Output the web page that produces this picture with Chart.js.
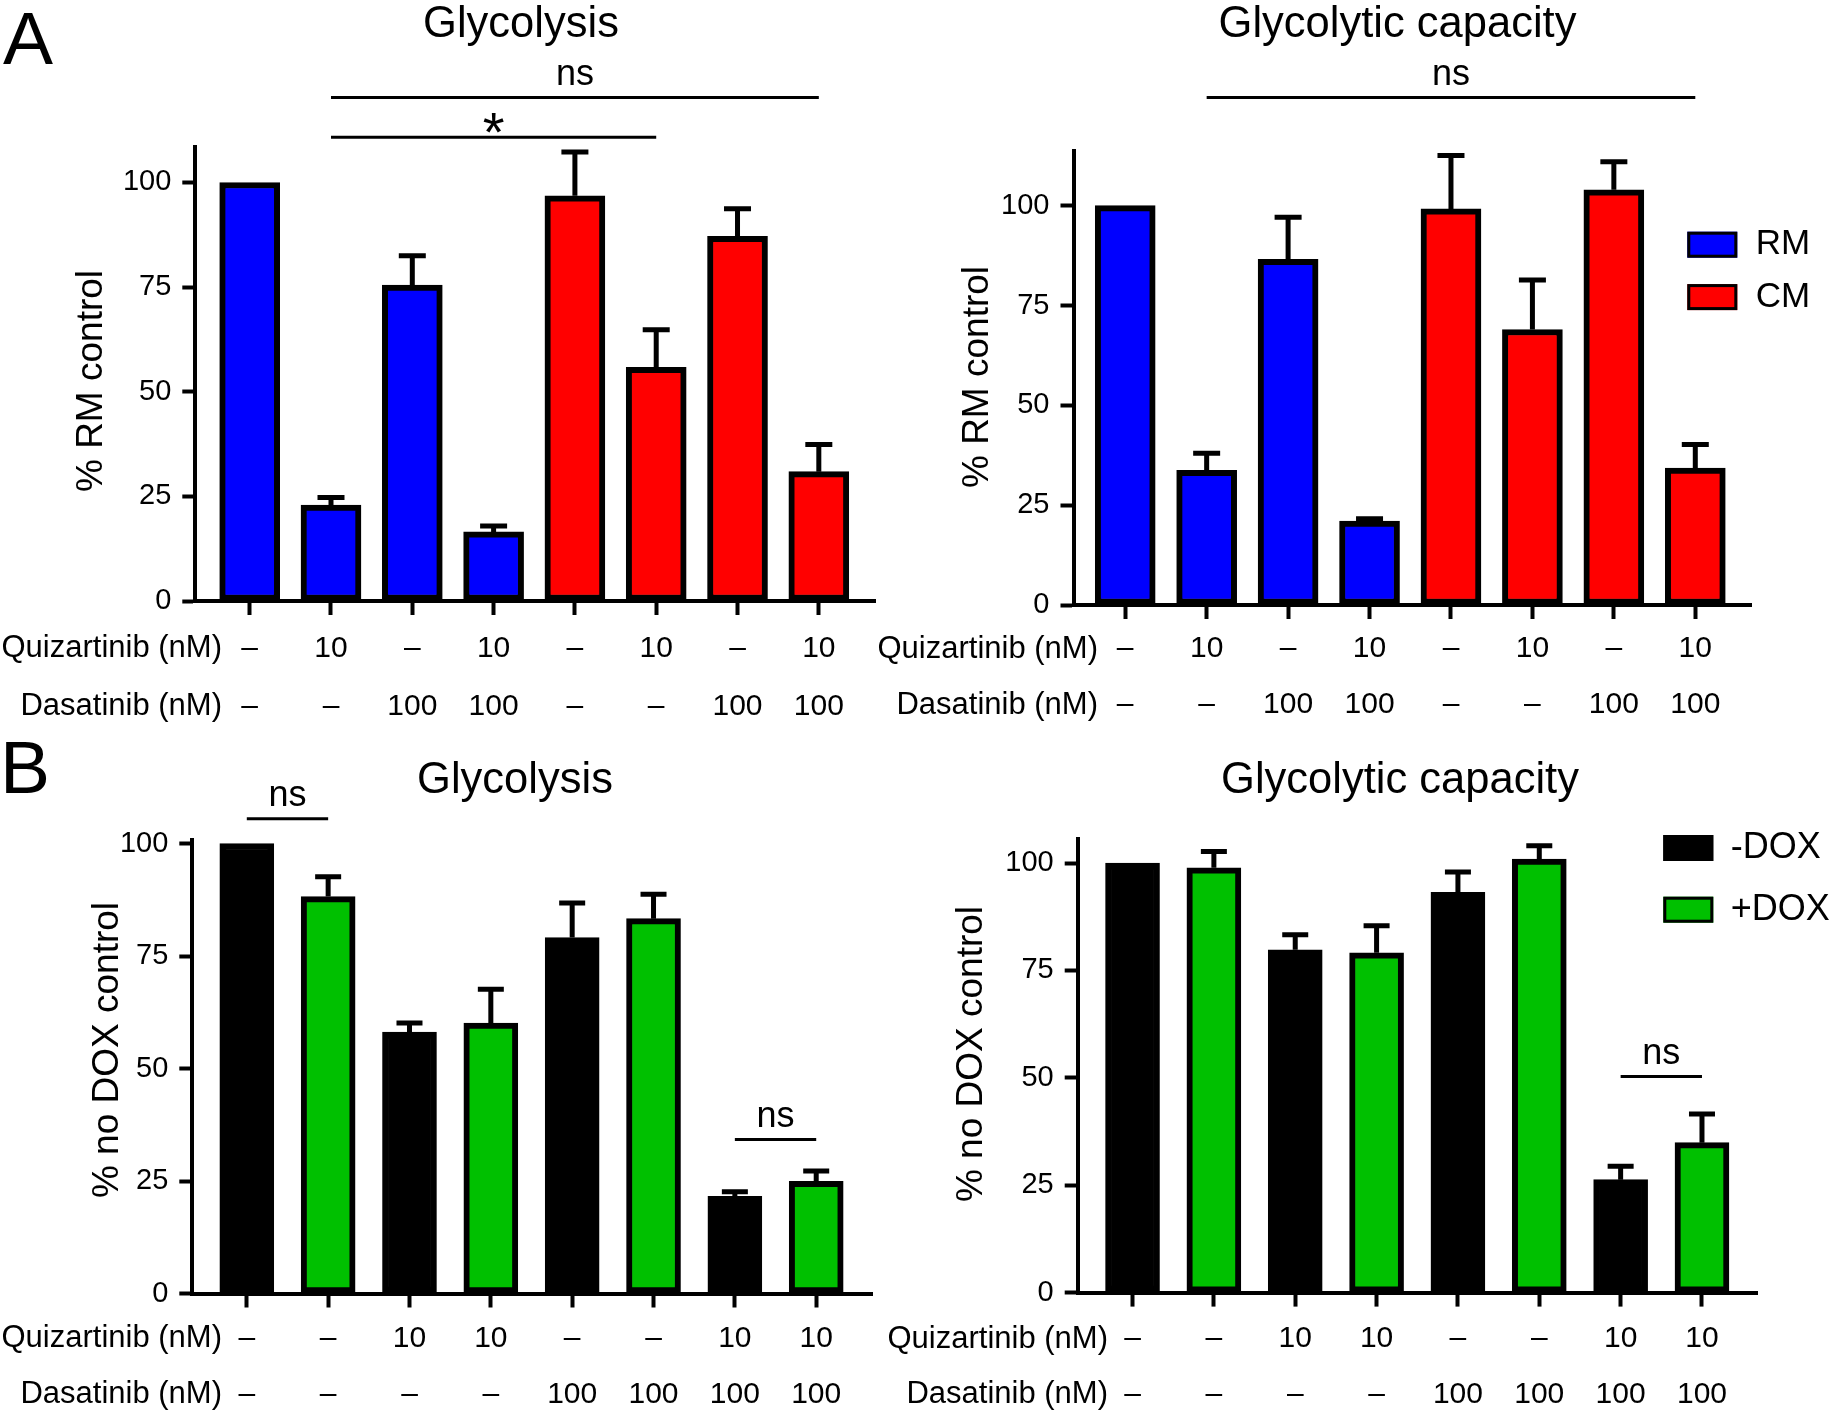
<!DOCTYPE html>
<html>
<head>
<meta charset="utf-8">
<script src="https://cdn.jsdelivr.net/npm/chart.js@4.4.0/dist/chart.umd.min.js"></script>
<style>
  html, body { margin: 0; padding: 0; background: #fff; }
  #wrap { position: relative; width: 1834px; height: 1416px; }
  #wrap canvas { position: absolute; left: 0; top: 0; }
</style>
</head>
<body>
<div id="wrap">
  <canvas id="glyA" width="1834" height="1416"></canvas>
  <canvas id="capA" width="1834" height="1416"></canvas>
  <canvas id="glyB" width="1834" height="1416"></canvas>
  <canvas id="capB" width="1834" height="1416"></canvas>
</div>
<script>
// treatment rows printed under the bars
var quizA = ['–', '10', '–', '10', '–', '10', '–', '10'];
var dasaA = ['–', '–', '100', '100', '–', '–', '100', '100'];
var mediumA = ['RM', 'RM', 'RM', 'RM', 'CM', 'CM', 'CM', 'CM'];

var quizB = ['–', '–', '10', '10', '–', '–', '10', '10'];
var dasaB = ['–', '–', '–', '–', '100', '100', '100', '100'];
var doxB = ['-DOX', '+DOX', '-DOX', '+DOX', '-DOX', '+DOX', '-DOX', '+DOX'];

// % of control, with the upper error bar length
var glycolysisA = [100, 22.9, 75.5, 16.5, 96.8, 55.8, 87.1, 30.9];
var glycolysisAErr = [0, 1.8, 7.0, 1.4, 10.5, 9.0, 6.6, 6.5];
var capacityA = [100, 33.7, 86.6, 21.0, 99.2, 69.0, 104.0, 34.3];
var capacityAErr = [0, 4.3, 10.5, 0.6, 13.4, 12.4, 7.0, 5.9];

var glycolysisB = [100, 88.2, 58.1, 60.1, 79.1, 83.3, 21.6, 24.9];
var glycolysisBErr = [0, 4.4, 2.0, 7.5, 7.7, 5.4, 1.0, 2.3];
var capacityB = [100, 98.9, 79.8, 79.1, 93.2, 100.9, 26.3, 34.9];
var capacityBErr = [0, 3.8, 3.5, 6.3, 4.7, 3.1, 3.1, 6.7];

var yTicks = [0, 25, 50, 75, 100];
var rowNames = ['Quizartinib (nM)', 'Dasatinib (nM)'];

var colors = { 'RM': '#0000ff', 'CM': '#ff0000', '-DOX': '#000000', '+DOX': '#00c000' };
var FONT = "'Liberation Sans', Arial, Helvetica, sans-serif";
Chart.defaults.font.family = FONT;
Chart.defaults.color = '#000';

var panels = {
  glyA: {
    values: glycolysisA, errors: glycolysisAErr, groups: mediumA, quiz: quizA, dasa: dasaA,
    title: 'Glycolysis', titleX: 521, titleY: 37, letter: 'A', letterX: 3, letterY: 64,
    yTitle: '% RM control', yTitleX: 92, yTitleY: 381,
    left: 0, top: 147.3, axisX: 195.3, axisEnd: 875, zero: 601, yMax: 108.4,
    xMin: -0.669, xMax: 7.691, rowPad: 5, rowLh: 57.7, rowRight: 222,
    barWidth: 60, cap: 27,
    brackets: [
      { from: 1, to: 7, y: 120.3, label: 'ns' },
      { from: 1, to: 5, y: 110.8, label: '*' }
    ]
  },
  capA: {
    values: capacityA, errors: capacityAErr, groups: mediumA, quiz: quizA, dasa: dasaA,
    title: 'Glycolytic capacity', titleX: 1397.5, titleY: 37,
    yTitle: '% RM control', yTitleX: 978, yTitleY: 377,
    left: 860, top: 150.6, axisX: 1073.5, axisEnd: 1751, zero: 605, yMax: 113.8,
    xMin: -0.635, xMax: 7.684, rowPad: 2, rowLh: 56, rowRight: 1098,
    barWidth: 60, cap: 27,
    brackets: [{ from: 1, to: 7, y: 127.1, label: 'ns' }],
    legend: { x: 1687.3, y: 231.7, gap: 52.4, textX: 1755.7, size: 35 }
  },
  glyB: {
    values: glycolysisB, errors: glycolysisBErr, groups: doxB, quiz: quizB, dasa: dasaB,
    title: 'Glycolysis', titleX: 515, titleY: 793, letter: 'B', letterX: 0, letterY: 793,
    yTitle: '% no DOX control', yTitleX: 108, yTitleY: 1050,
    left: 0, top: 839.9, axisX: 192.3, axisEnd: 872.5, zero: 1293.5, yMax: 100.8,
    xMin: -0.670, xMax: 7.692, rowPad: 3.6, rowLh: 55.7, rowRight: 222,
    barWidth: 54, cap: 26,
    brackets: [
      { from: 0, to: 1, y: 105.5, label: 'ns' },
      { from: 6, to: 7, y: 34.2, label: 'ns' }
    ]
  },
  capB: {
    values: capacityB, errors: capacityBErr, groups: doxB, quiz: quizB, dasa: dasaB,
    title: 'Glycolytic capacity', titleX: 1400, titleY: 793,
    yTitle: '% no DOX control', yTitleX: 972, yTitleY: 1054,
    left: 860, top: 839, axisX: 1077.7, axisEnd: 1757.3, zero: 1292.6, yMax: 105.6,
    xMin: -0.674, xMax: 7.680, rowPad: 4.8, rowLh: 55.5, rowRight: 1108,
    barWidth: 54, cap: 26,
    brackets: [{ from: 6, to: 7, y: 50.3, label: 'ns' }],
    legend: { x: 1663.3, y: 835, gap: 61.7, textX: 1730.7, size: 36 }
  }
};

var panelPlugin = {
  id: 'panel',
  afterDatasetsDraw: function (chart) {
    var p = panels[chart.canvas.id];
    var ctx = chart.ctx, xs = chart.scales.x, ys = chart.scales.y;
    ctx.save();
    ctx.strokeStyle = '#000';
    ctx.lineWidth = 5;
    p.values.forEach(function (v, i) {
      var e = p.errors[i];
      if (!e) return;
      var x = xs.getPixelForValue(i);
      var y0 = ys.getPixelForValue(v), y1 = ys.getPixelForValue(v + e);
      ctx.beginPath();
      ctx.moveTo(x, y0);
      ctx.lineTo(x, y1);
      ctx.moveTo(x - p.cap / 2, y1);
      ctx.lineTo(x + p.cap / 2, y1);
      ctx.stroke();
    });
    ctx.restore();
  },
  afterDraw: function (chart) {
    var p = panels[chart.canvas.id];
    var ctx = chart.ctx, xs = chart.scales.x, ys = chart.scales.y;
    ctx.save();
    ctx.fillStyle = '#000';
    ctx.strokeStyle = '#000';

    ctx.textBaseline = 'alphabetic';
    ctx.textAlign = 'center';
    ctx.font = '43.5px ' + FONT;
    ctx.fillText(p.title, p.titleX, p.titleY);
    if (p.letter) {
      ctx.textAlign = 'left';
      ctx.font = '75px ' + FONT;
      ctx.fillText(p.letter, p.letterX, p.letterY);
    }

    // y axis title
    ctx.save();
    ctx.translate(p.yTitleX, p.yTitleY);
    ctx.rotate(-Math.PI / 2);
    ctx.textAlign = 'center';
    ctx.textBaseline = 'middle';
    ctx.font = '37px ' + FONT;
    ctx.fillText(p.yTitle, 0, 0);
    ctx.restore();

    // row names, level with the tick label lines
    ctx.textAlign = 'right';
    ctx.textBaseline = 'middle';
    ctx.font = '31px ' + FONT;
    var y1 = xs.top + 14 + p.rowPad + p.rowLh / 2;
    rowNames.forEach(function (name, k) {
      ctx.fillText(name, p.rowRight, y1 + k * p.rowLh);
    });

    // significance bars
    p.brackets.forEach(function (b) {
      var ly = ys.getPixelForValue(b.y);
      var xa = xs.getPixelForValue(b.from), xb = xs.getPixelForValue(b.to);
      ctx.lineWidth = 3;
      ctx.beginPath();
      ctx.moveTo(xa, ly);
      ctx.lineTo(xb, ly);
      ctx.stroke();
      ctx.textAlign = 'center';
      ctx.textBaseline = 'alphabetic';
      if (b.label === '*') {
        ctx.font = '56px ' + FONT;
        ctx.fillText(b.label, (xa + xb) / 2, ly + 14);
      } else {
        ctx.font = '36px ' + FONT;
        ctx.fillText(b.label, (xa + xb) / 2, ly - 12.5);
      }
    });

    if (p.legend) {
      var L = p.legend;
      chart.data.datasets.forEach(function (ds, k) {
        var by = L.y + k * L.gap;
        ctx.fillStyle = ds.backgroundColor;
        ctx.fillRect(L.x, by, 50, 26);
        ctx.lineWidth = 3;
        ctx.strokeRect(L.x + 1.5, by + 1.5, 47, 23);
        ctx.fillStyle = '#000';
        ctx.font = L.size + 'px ' + FONT;
        ctx.textAlign = 'left';
        ctx.textBaseline = 'middle';
        ctx.fillText(ds.label, L.textX, by + 13);
      });
    }
    ctx.restore();
  }
};

function makeChart(id) {
  var p = panels[id];
  var names = p.groups.filter(function (g, i) { return p.groups.indexOf(g) === i; });
  var datasets = names.map(function (name) {
    var pts = [];
    p.values.forEach(function (v, i) {
      if (p.groups[i] === name) pts.push({ x: i, y: v });
    });
    return {
      label: name,
      data: pts,
      backgroundColor: colors[name],
      borderColor: '#000',
      borderWidth: 6,
      borderSkipped: false,
      barThickness: p.barWidth,
      grouped: false
    };
  });

  new Chart(document.getElementById(id), {
    type: 'bar',
    data: { datasets: datasets },
    options: {
      responsive: false,
      animation: false,
      layout: {
        autoPadding: false,
        padding: { left: p.left, top: p.top, right: 1834 - p.axisEnd, bottom: 0 }
      },
      plugins: {
        legend: { display: false },
        tooltip: { enabled: false },
        title: { display: false }
      },
      scales: {
        x: {
          type: 'linear',
          offset: false,
          min: p.xMin,
          max: p.xMax,
          afterBuildTicks: function (s) {
            s.ticks = p.quiz.map(function (q, i) { return { value: i }; });
          },
          afterFit: function (s) { s.height = 1416 - p.zero; },
          grid: { offset: false, drawOnChartArea: false, tickLength: 14, tickWidth: 4, tickColor: '#000' },
          border: { width: 4, color: '#000' },
          ticks: {
            autoSkip: false,
            maxRotation: 0,
            padding: p.rowPad,
            color: '#000',
            font: { size: 30, lineHeight: p.rowLh / 30 },
            callback: function (v) { return [p.quiz[v], p.dasa[v]]; }
          }
        },
        y: {
          min: 0,
          max: p.yMax,
          afterBuildTicks: function (s) {
            s.ticks = yTicks.map(function (v) { return { value: v }; });
          },
          afterFit: function (s) { s.width = p.axisX - p.left; },
          grid: { drawOnChartArea: false, tickLength: 13, tickWidth: 4, tickColor: '#000' },
          border: { width: 4, color: '#000' },
          ticks: { padding: 11, color: '#000', font: { size: 29 } }
        }
      }
    },
    plugins: [panelPlugin]
  });
}

makeChart('glyA');
makeChart('capA');
makeChart('glyB');
makeChart('capB');
</script>
</body>
</html>
